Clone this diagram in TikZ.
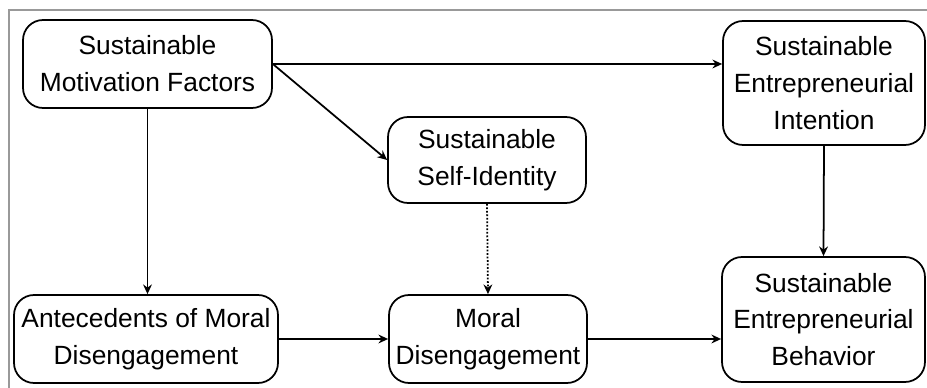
\documentclass[tikz,border=0pt]{standalone}
\usepackage{fontspec}
\setmainfont{Liberation Sans}
\usetikzlibrary{arrows.meta,positioning}

\tikzset{
  factor/.style={draw, line width=1pt, rounded corners=0.4cm, align=center,
    inner sep=0pt, font=\fontsize{15}{21}\selectfont},
  link/.style={line width=1pt, -{Stealth[length=5.5pt,width=5pt]}}
}

\begin{document}
\begin{tikzpicture}[x=0.02cm, y=-0.02cm]
  \useasboundingbox (0,0) rectangle (927,388);
  \draw[gray!80, line width=1pt] (9,388) -- (9,10) -- (927,10);
  \node[factor, minimum width=4.98cm, minimum height=1.76cm] (mot) at (147.5,64) {Sustainable\\Motivation Factors};
  \node[factor, minimum width=3.96cm, minimum height=1.72cm] (self) at (487,160) {Sustainable\\Self-Identity};
  \node[factor, minimum width=4.04cm, minimum height=2.48cm] (int) at (824,83) {Sustainable\\Entrepreneurial\\Intention};
  \node[factor, minimum width=5.28cm, minimum height=1.76cm] (ant) at (146,339) {Antecedents of Moral\\Disengagement};
  \node[factor, minimum width=3.96cm, minimum height=1.76cm] (mor) at (488,339) {Moral\\Disengagement};
  \node[factor, minimum width=4.06cm, minimum height=2.5cm] (beh) at (823.5,319.5) {Sustainable\\Entrepreneurial\\Behavior};
  \draw[link] (mot.east) -- (mot.east -| int.west);
  \draw[link] (mot.east) -- (self.west);
  \draw[link] (mot.south) -- (mot.south |- ant.north);
  \draw[link, densely dotted] (self.south) -- (mor.north);
  \draw[link] (int.south) -- (beh.north);
  \draw[link] (ant.east) -- (mor.west);
  \draw[link] (mor.east) -- (mor.east -| beh.west);
\end{tikzpicture}
\end{document}
